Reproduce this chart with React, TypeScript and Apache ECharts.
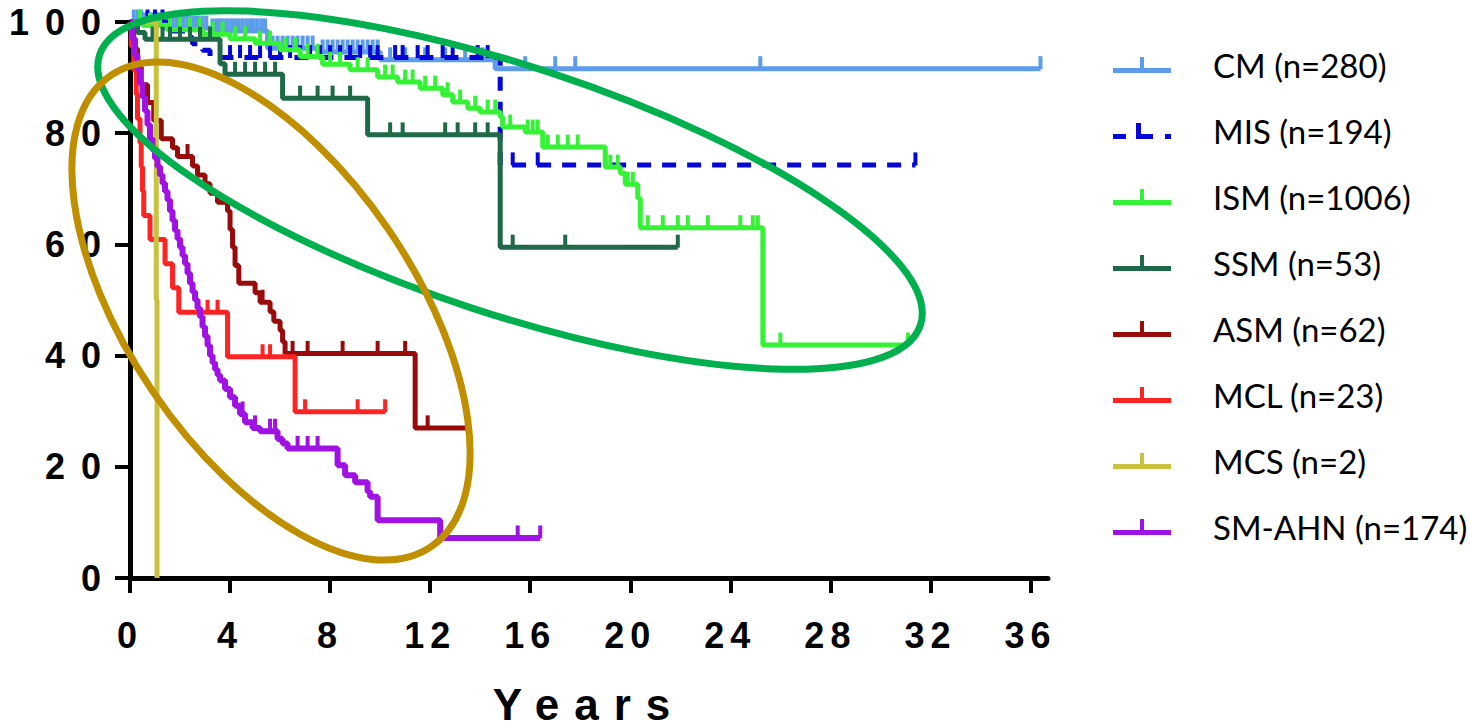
import React, { useEffect, useRef } from 'react';
import * as echarts from 'echarts';

// ---- Axis ticks ----
const xTicks = [0, 4, 8, 12, 16, 20, 24, 28, 32, 36];
const yTicks = [0, 20, 40, 60, 80, 100];

// ---- Series names / colours ----
const names = ['CM (n=280)', 'MIS (n=194)', 'ISM (n=1006)', 'SSM (n=53)', 'ASM (n=62)', 'MCL (n=23)', 'MCS (n=2)', 'SM-AHN (n=174)'];
const colors = ['#5c9cea', '#0606d8', '#36f236', '#1e6a48', '#990a0a', '#ff2424', '#c9c23f', '#a012e4'];

// ---- Kaplan-Meier steps: [years, survival % after event] and censor times ----
const cmSteps = [[0, 100], [0.6, 99.5], [1.3, 98.9], [3.2, 98.4], [5.5, 95.3], [7.5, 94.6], [10.0, 93.2], [14.6, 91.6]];
const cmCensor = [0.15, 0.3, 0.45, 0.6, 0.75, 0.9, 1.05, 1.2, 1.4, 1.55, 1.7, 1.85, 2.0, 2.15, 2.3, 2.45, 2.6, 2.75, 2.9, 3.05, 3.3, 3.45, 3.6, 3.75, 3.9, 4.05, 4.2, 4.35, 4.5, 4.65, 4.8, 4.95, 5.1, 5.25, 5.4, 5.7, 5.9, 6.1, 6.3, 6.5, 6.7, 6.9, 7.1, 7.3, 7.7, 7.9, 8.1, 8.3, 8.5, 8.7, 8.9, 9.1, 9.3, 9.5, 9.7, 9.9, 10.4, 11.0, 11.8, 12.6, 13.4, 14.1, 15.8, 17.0, 17.8, 25.2, 36.4];

const misSteps = [[0, 100], [1.7, 98.4], [2.1, 97.2], [2.5, 96.1], [2.9, 94.9], [3.2, 93.6], [14.8, 74.3]];
const misCensor = [0.7, 1.0, 1.3, 3.6, 4.0, 4.4, 4.8, 5.2, 5.6, 6.0, 6.4, 6.8, 7.2, 7.6, 8.0, 8.4, 8.8, 9.2, 9.6, 9.9, 10.6, 10.9, 11.5, 11.9, 12.5, 12.9, 13.9, 14.3, 15.3, 16.3, 19.0, 31.4];

const ismSteps = [[0, 100], [0.5, 99.4], [1.5, 98.6], [2.9, 97.8], [4.0, 97.0], [5.0, 96.2], [6.0, 95.0], [6.8, 93.8], [7.7, 92.4], [8.8, 91.4], [9.9, 90.1], [10.7, 89.2], [11.6, 88.1], [12.5, 86.9], [12.9, 85.6], [13.5, 84.5], [14.0, 83.8], [14.8, 82.9], [14.9, 81.1], [15.8, 80.2], [16.5, 77.5], [19.0, 73.9], [19.6, 72.8], [19.8, 70.8], [20.3, 68.3], [20.4, 63.0], [25.3, 41.9]];
const ismCensor = [0.4, 0.8, 1.2, 1.6, 2.0, 2.4, 2.8, 3.3, 3.7, 4.2, 4.6, 5.2, 5.6, 6.2, 6.6, 7.1, 7.5, 8.0, 8.4, 9.1, 9.5, 10.2, 10.5, 11.0, 11.3, 11.8, 12.2, 12.7, 13.2, 13.8, 14.3, 14.6, 15.2, 15.9, 16.1, 16.3, 16.7, 17.1, 17.5, 17.9, 19.2, 19.5, 19.9, 20.1, 20.7, 21.3, 21.9, 22.3, 23.1, 24.4, 24.9, 25.1, 26.0, 31.1];

const ssmSteps = [[0, 100], [0.3, 98.1], [0.6, 96.9], [3.6, 92.5], [3.8, 90.6], [6.1, 86.3], [9.5, 79.7], [14.8, 59.5]];
const ssmCensor = [0.9, 1.3, 1.6, 2.0, 2.4, 2.8, 3.2, 4.2, 4.6, 5.0, 5.4, 5.8, 6.8, 7.5, 8.1, 8.8, 10.4, 10.9, 12.6, 13.1, 13.8, 14.3, 15.3, 17.4, 21.9];

const asmSteps = [[0, 100], [0.05, 98.4], [0.15, 95.2], [0.3, 91.9], [0.45, 88.7], [0.7, 85.5], [0.95, 82.3], [1.25, 79.0], [1.7, 77.4], [1.9, 75.8], [2.5, 74.1], [2.7, 72.5], [3.0, 70.9], [3.2, 69.2], [3.5, 67.6], [3.9, 66.0], [4.0, 62.7], [4.1, 59.5], [4.2, 56.2], [4.35, 53.0], [5.0, 51.3], [5.2, 49.6], [5.6, 47.9], [5.75, 46.2], [6.0, 44.5], [6.1, 42.5], [6.2, 40.4], [11.4, 27.0]];
const asmCensor = [2.3, 5.3, 6.5, 7.1, 8.5, 9.9, 11.0, 11.9, 13.5];

const mclSteps = [[0, 100], [0.05, 95.7], [0.15, 91.3], [0.25, 87.0], [0.3, 82.6], [0.4, 78.3], [0.45, 73.9], [0.5, 69.6], [0.55, 65.2], [0.8, 60.9], [1.4, 56.5], [1.7, 52.2], [1.95, 47.8], [3.9, 39.8], [6.6, 29.9]];
const mclCensor = [3.1, 3.5, 5.3, 5.6, 7.0, 9.1, 10.2];

const mcsSteps = [[0, 100], [1.05, 50], [1.08, 0]];
const mcsCensor: number[] = [];

const ahnSteps = [[0, 100], [0.1, 97], [0.2, 94], [0.3, 91.5], [0.4, 89], [0.5, 86.5], [0.6, 84], [0.7, 81.5], [0.8, 79], [0.9, 77], [1.0, 75.5], [1.1, 74], [1.2, 72.5], [1.3, 71], [1.4, 69.5], [1.5, 68], [1.6, 66], [1.7, 64.3], [1.8, 62.5], [1.9, 61], [2.0, 59.5], [2.1, 58], [2.2, 56.5], [2.3, 54.8], [2.4, 53], [2.5, 51.5], [2.6, 50], [2.7, 48.5], [2.8, 47], [2.9, 45.2], [3.0, 43.5], [3.1, 41.8], [3.2, 40], [3.3, 38.7], [3.4, 37.5], [3.5, 36.5], [3.6, 35.5], [3.8, 34], [4.0, 32.5], [4.2, 31], [4.4, 29.5], [4.6, 28], [4.9, 27], [5.2, 26.4], [5.9, 25], [6.1, 24.2], [6.3, 23.3], [8.3, 20.3], [8.6, 18.5], [9.0, 17.2], [9.5, 15.5], [9.6, 14.6], [9.9, 10.4], [12.4, 7.2]];
const ahnCensor = [4.5, 5.0, 5.6, 5.8, 6.7, 7.1, 7.5, 15.5, 16.4];

const allSteps = [cmSteps, misSteps, ismSteps, ssmSteps, asmSteps, mclSteps, mcsSteps, ahnSteps];
const allCensor = [cmCensor, misCensor, ismCensor, ssmCensor, asmCensor, mclCensor, mcsCensor, ahnCensor];

function survAt(steps: number[][], t: number): number {
  let s = steps[0][1];
  for (const [st, sv] of steps) {
    if (st <= t) s = sv;
  }
  return s;
}

function buildData(steps: number[][], censor: number[]) {
  const pts: { t: number; s: number; c: boolean }[] = [];
  steps.forEach(([t, s]) => pts.push({ t, s, c: false }));
  censor.forEach((t) => pts.push({ t, s: survAt(steps, t), c: true }));
  pts.sort((a, b) => a.t - b.t || (a.c ? 1 : -1));
  return pts.map((p) =>
    p.c
      ? { value: [p.t, p.s], symbol: 'rect', symbolSize: [4, 13], symbolOffset: [0, -6] }
      : { value: [p.t, p.s], symbol: 'none' }
  );
}

const tIcon = 'path://M0,11H58V16H0Z M27,0H31V11H27Z';
const misIcon = 'path://M0,11H13V16H0Z M23,0H28V11H23Z M23,11H40V16H23Z M52,11H58V16H52Z';

export default function App() {
  const ref = useRef<HTMLDivElement>(null);

  useEffect(() => {
    if (!ref.current) return;
    const chart = echarts.init(ref.current, undefined, { renderer: 'svg' });

    const series = names.map((name, i) => ({
      name,
      type: 'line',
      step: 'end',
      data: buildData(allSteps[i], allCensor[i]),
      color: colors[i],
      symbol: 'rect',
      showSymbol: true,
      showAllSymbol: true,
      itemStyle: { color: colors[i], borderWidth: 0 },
      lineStyle: {
        color: colors[i],
        width: i === 7 ? 6 : 5,
        type: i === 1 ? [14, 11] : 'solid',
        cap: 'butt',
      },
      emphasis: { disabled: true },
      silent: true,
      z: 2 + i,
    }));

    chart.setOption({
      animation: false,
      backgroundColor: '#ffffff',
      grid: { left: 130, right: 422, top: 22, bottom: 149, outerBoundsMode: 'none', containLabel: false },
      xAxis: {
        type: 'value',
        min: 0,
        max: 36.7,
        name: 'Years',
        nameLocation: 'middle',
        nameGap: 106,
        nameTextStyle: { fontSize: 44, lineHeight: 40, fontWeight: 900, fontFamily: 'Liberation Sans', color: '#000' },
        axisLine: { show: true, onZero: false, lineStyle: { color: '#000', width: 5 } },
        axisTick: { show: true, length: 15, customValues: xTicks, lineStyle: { color: '#000', width: 4 } },
        axisLabel: {
          customValues: xTicks,
          fontSize: 36,
          fontWeight: 800,
          fontFamily: 'Liberation Sans',
          color: '#000',
          margin: 39,
          formatter: (v: number) => String(v),
        },
        splitLine: { show: false },
      },
      yAxis: {
        type: 'value',
        min: 0,
        max: 100,
        interval: 20,
        axisLine: { show: true, onZero: false, lineStyle: { color: '#000', width: 5 } },
        axisTick: { show: true, length: 15, lineStyle: { color: '#000', width: 4 } },
        axisLabel: {
          fontSize: 36,
          fontWeight: 'bold',
          fontFamily: 'Liberation Sans',
          color: '#000',
          margin: 13,
          customValues: yTicks,
        },
        splitLine: { show: false },
      },
      legend: {
        orient: 'vertical',
        left: 1108,
        top: 43,
        itemWidth: 58,
        itemHeight: 16,
        itemGap: 32,
        symbolKeepAspect: false,
        selectedMode: false,
        itemStyle: { borderWidth: 0 },
        textStyle: { fontFamily: 'Lato', fontSize: 33, color: '#000', lineHeight: 34, padding: [0, 0, 0, 37] },
        data: names.map((n, i) => ({ name: n, icon: i === 1 ? misIcon : tIcon })),
      },
      graphic: [
        {
          type: 'ellipse',
          x: 510,
          y: 190,
          rotation: -0.318,
          shape: { cx: 0, cy: 0, rx: 432, ry: 124 },
          style: { fill: 'none', stroke: '#00b04f', lineWidth: 7 },
          z: 100,
          silent: true,
        },
        {
          type: 'ellipse',
          x: 271,
          y: 311,
          rotation: -0.974,
          shape: { cx: 0, cy: 0, rx: 285, ry: 143 },
          style: { fill: 'none', stroke: '#bf8f00', lineWidth: 7 },
          z: 100,
          silent: true,
        },
      ],
      series,
    });

    return () => chart.dispose();
  }, []);

  return (
    <div style={{ position: 'fixed', left: 0, top: 0, width: 1470, height: 727, background: '#fff' }}>
      <style>{`#km-chart text[style*="bold"]{letter-spacing:16px;} #km-chart text[style*="800"]{letter-spacing:6px;} #km-chart text[style*="900"]{letter-spacing:15px;}`}</style>
      <div id="km-chart" ref={ref} style={{ width: 1470, height: 727 }} />
    </div>
  );
}
